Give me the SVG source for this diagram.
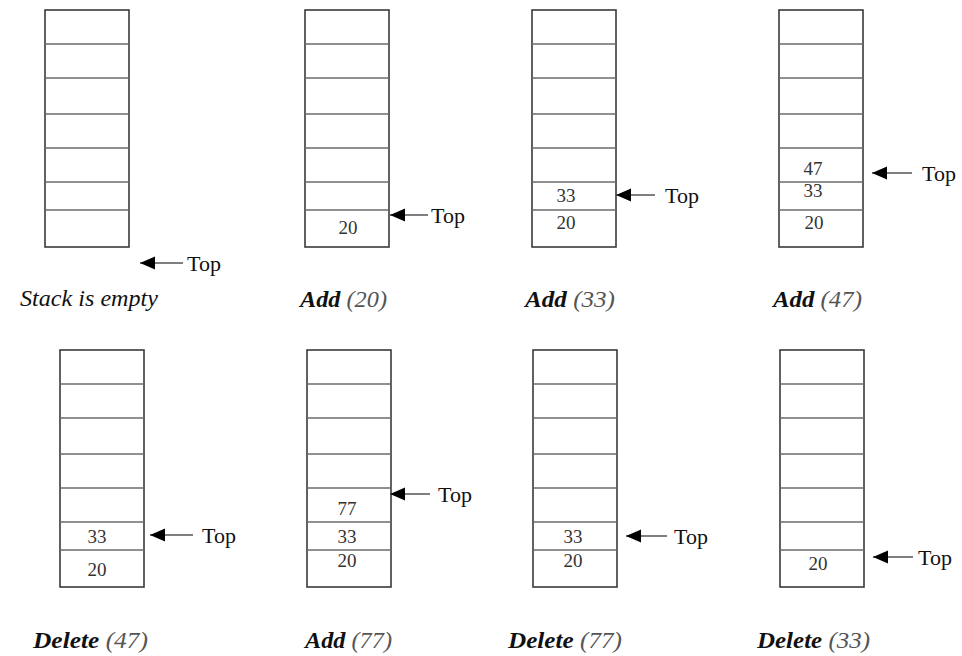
<svg xmlns="http://www.w3.org/2000/svg" xmlns:xlink="http://www.w3.org/1999/xlink" width="962" height="656" viewBox="0 0 962 656">
<style>
.frame{fill:#fff;stroke:#3a3a3a;stroke-width:1.6}
.div{stroke:#6a6a6a;stroke-width:1.6}
.num{font-family:"Liberation Serif","Times New Roman",serif;font-size:19px;fill:#333;text-anchor:middle}
.top{font-family:"Liberation Serif","Times New Roman",serif;font-size:22px;fill:#111}
.lbl{font-family:"Liberation Serif","Times New Roman",serif;font-size:23px;font-style:italic;fill:#111}
.op{font-weight:bold}
.arg{fill:#555}
.arrow{stroke:#555;stroke-width:1.6;fill:none;marker-start:url(#head)}
</style>
<defs>
<marker id="head" markerUnits="userSpaceOnUse" markerWidth="16" markerHeight="14" refX="0" refY="7" orient="auto" viewBox="0 0 16 14">
<path d="M0,7 L15,0.5 L15,13.5 Z" fill="#000"/>
</marker>
<g id="stack">
<rect class="frame" x="0" y="0" width="84" height="237"/>
<line class="div" x1="0" y1="34" x2="84" y2="34"/>
<line class="div" x1="0" y1="68" x2="84" y2="68"/>
<line class="div" x1="0" y1="104" x2="84" y2="104"/>
<line class="div" x1="0" y1="138" x2="84" y2="138"/>
<line class="div" x1="0" y1="172" x2="84" y2="172"/>
<line class="div" x1="0" y1="200" x2="84" y2="200"/>
</g>
</defs>
<rect width="962" height="656" fill="#fff"/>

<g id="s1">
<use xlink:href="#stack" x="45" y="10"/>
<text class="lbl" x="20" y="306" textLength="138" lengthAdjust="spacingAndGlyphs">Stack is empty</text>
</g>
<g id="s2">
<use xlink:href="#stack" x="305" y="10"/>
<text class="num" x="348" y="234">20</text>
<text class="lbl" x="300" y="307" textLength="87" lengthAdjust="spacingAndGlyphs"><tspan class="op">Add</tspan><tspan class="arg"> (20)</tspan></text>
</g>
<g id="s3">
<use xlink:href="#stack" x="532" y="10"/>
<text class="num" x="566" y="202">33</text>
<text class="num" x="566" y="229">20</text>
<text class="lbl" x="525" y="307" textLength="90" lengthAdjust="spacingAndGlyphs"><tspan class="op">Add</tspan><tspan class="arg"> (33)</tspan></text>
</g>
<g id="s4">
<use xlink:href="#stack" x="779" y="10"/>
<text class="num" x="813" y="175">47</text>
<text class="num" x="813" y="197">33</text>
<text class="num" x="814" y="229">20</text>
<text class="lbl" x="773" y="307" textLength="89" lengthAdjust="spacingAndGlyphs"><tspan class="op">Add</tspan><tspan class="arg"> (47)</tspan></text>
</g>
<g id="s5">
<use xlink:href="#stack" x="60" y="350"/>
<text class="num" x="97" y="543">33</text>
<text class="num" x="97" y="576">20</text>
<text class="lbl" x="33" y="648" textLength="115" lengthAdjust="spacingAndGlyphs"><tspan class="op">Delete</tspan><tspan class="arg"> (47)</tspan></text>
</g>
<g id="s6">
<use xlink:href="#stack" x="307" y="350"/>
<text class="num" x="347" y="515">77</text>
<text class="num" x="347" y="543">33</text>
<text class="num" x="347" y="567">20</text>
<text class="lbl" x="305" y="648" textLength="87" lengthAdjust="spacingAndGlyphs"><tspan class="op">Add</tspan><tspan class="arg"> (77)</tspan></text>
</g>
<g id="s7">
<use xlink:href="#stack" x="533" y="350"/>
<text class="num" x="573" y="543">33</text>
<text class="num" x="573" y="567">20</text>
<text class="lbl" x="508" y="648" textLength="114" lengthAdjust="spacingAndGlyphs"><tspan class="op">Delete</tspan><tspan class="arg"> (77)</tspan></text>
</g>
<g id="s8">
<use xlink:href="#stack" x="780" y="350"/>
<text class="num" x="818" y="570">20</text>
<text class="lbl" x="757" y="648" textLength="113" lengthAdjust="spacingAndGlyphs"><tspan class="op">Delete</tspan><tspan class="arg"> (33)</tspan></text>
</g>

<g id="connectors">
<line class="arrow" x1="140" y1="263" x2="183" y2="263"/>
<line class="arrow" x1="390" y1="215" x2="428" y2="215"/>
<line class="arrow" x1="616" y1="195" x2="655" y2="195"/>
<line class="arrow" x1="872" y1="173" x2="912" y2="173"/>
<line class="arrow" x1="150" y1="535" x2="193" y2="535"/>
<line class="arrow" x1="390" y1="494" x2="430" y2="494"/>
<line class="arrow" x1="626" y1="536" x2="667" y2="536"/>
<line class="arrow" x1="873" y1="557" x2="913" y2="557"/>
</g>
<g id="toplabels">
<text class="top" x="187" y="271">Top</text>
<text class="top" x="431" y="223">Top</text>
<text class="top" x="665" y="203">Top</text>
<text class="top" x="922" y="181">Top</text>
<text class="top" x="202" y="543">Top</text>
<text class="top" x="438" y="502">Top</text>
<text class="top" x="674" y="544">Top</text>
<text class="top" x="918" y="565">Top</text>
</g>
</svg>
